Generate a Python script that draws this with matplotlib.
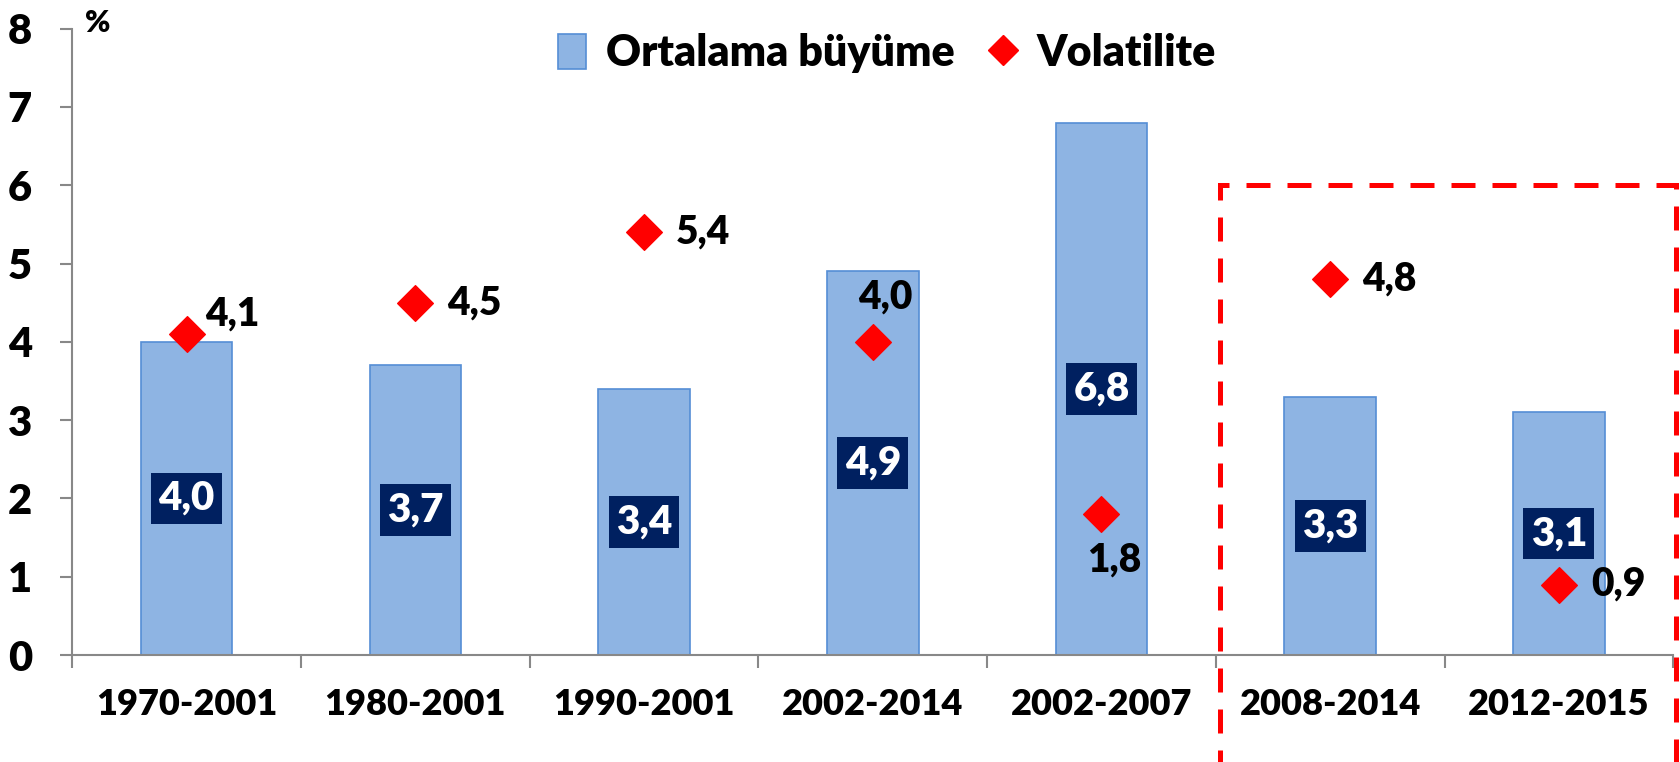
import numpy as np
import matplotlib
matplotlib.use("Agg")
import matplotlib.pyplot as plt
from matplotlib.patches import Rectangle
from matplotlib.lines import Line2D
from matplotlib.patches import Patch

plt.rcParams['font.family'] = ['Lato', 'DejaVu Sans']
plt.rcParams['font.weight'] = 'heavy'

# veriler
donemler = ['1970-2001', '1980-2001', '1990-2001', '2002-2014', '2002-2007', '2008-2014', '2012-2015']
ortalama_buyume = [4.0, 3.7, 3.4, 4.9, 6.8, 3.3, 3.1]
volatilite = [4.1, 4.5, 5.4, 4.0, 1.8, 4.8, 0.9]
# etiket yerleşimi: r = sağ, ru = sağ üst, a = üst, b = alt
etiket_yeri = ['ru', 'r', 'r', 'a', 'b', 'r', 'r']

W = 'heavy'

fig = plt.figure(figsize=(16.8, 7.62), dpi=100)
ax = fig.add_axes([0.043, 0.1404, 0.953, 0.822])

x = np.arange(len(donemler))
ax.bar(x, ortalama_buyume, width=0.4, color='#8EB4E3', edgecolor='#558ED5',
       linewidth=1.2, zorder=2)
ax.scatter(x, volatilite, marker='D', s=330, color='#FF0000', zorder=4)

# bar etiketleri
for xi, v in zip(x, ortalama_buyume):
    ax.text(xi, v / 2, f'{v:.1f}'.replace('.', ','), ha='center', va='center',
            color='white', fontsize=29, fontweight=W, zorder=5,
            bbox=dict(boxstyle='square,pad=0.18', fc='#002060', ec='none'))

# volatilite etiketleri
ofset = {'r': (23, 0, 'left'), 'ru': (13, 14, 'left'),
         'a': (9, 32, 'center'), 'b': (9, -33, 'center')}
for xi, v, yer in zip(x, volatilite, etiket_yeri):
    s = f'{v:.1f}'.replace('.', ',')
    dx, dy, ha = ofset[yer]
    ax.annotate(s, (xi, v), xytext=(dx, dy), textcoords='offset points',
                ha=ha, va='center', fontsize=28, fontweight=W, zorder=5)

ax.set_xlim(-0.5, len(donemler) - 0.5)
ax.set_ylim(0, 8)
ax.set_yticks(range(0, 9))
ax.set_xticks(x)
ax.set_xticklabels(donemler)
ax.set_xticks(np.arange(-0.5, len(donemler), 1.0), minor=True)

for sp in ['top', 'right']:
    ax.spines[sp].set_visible(False)
for sp in ['left', 'bottom']:
    ax.spines[sp].set_color('#888888')
    ax.spines[sp].set_linewidth(1.5)

ax.tick_params(axis='y', length=9, width=1.5, color='#888888', labelsize=30, pad=20)
ax.tick_params(axis='x', which='major', length=0, labelsize=26, pad=24)
ax.tick_params(axis='x', which='minor', length=9, width=1.5, color='#888888')
for lab in ax.get_xticklabels() + ax.get_yticklabels():
    lab.set_fontweight(W)

fig.text(0.058, 0.97, '%', fontsize=22, fontweight=W, va='center', ha='center')

# kesikli kırmızı çerçeve
cerceve = Rectangle((4.52, -2.0), 1.99, 8.0, fill=False, edgecolor='#FF0000',
                    linewidth=3.6, linestyle=(0, (4.8, 3.4)), clip_on=False, zorder=6)
ax.add_patch(cerceve)

handles = [Patch(facecolor='#8EB4E3', edgecolor='#558ED5', linewidth=1.2),
           Line2D([], [], marker='D', linestyle='none', color='#FF0000', markersize=15)]
fig.legend(handles, ['Ortalama büyüme', 'Volatilite'], loc='center',
           bbox_to_anchor=(0.528, 0.93), ncol=2, frameon=False,
           handlelength=0.65, handleheight=0.9, handletextpad=0.45, columnspacing=0.8,
           prop={'weight': W, 'size': 31})

fig.savefig('out.png', dpi=100)
